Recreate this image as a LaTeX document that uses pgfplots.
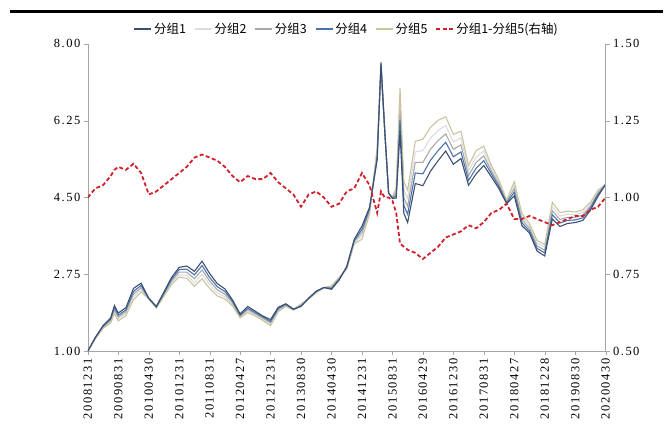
\documentclass[border=0pt]{standalone}
\usepackage{pgfplots}
\usepackage{pgfplotstable}
\pgfplotsset{compat=1.18}
\usepackage{fontspec}
\setmainfont{Liberation Serif}
\newfontfamily\tickf[LetterSpace=12]{Liberation Serif}
\newfontfamily\cjk{Noto Sans CJK SC}
\definecolor{gA}{HTML}{3C4F6E}
\definecolor{gB}{HTML}{DCDCDC}
\definecolor{gC}{HTML}{A8A8A8}
\definecolor{gD}{HTML}{4A72B0}
\definecolor{gE}{HTML}{C8C4A0}
\definecolor{rd}{HTML}{D0202A}
\pgfplotstableread{
m g1 g2 g3 g4 g5 d
0 1.00 1.00 1.00 1.00 1.00 1.00
2 1.32 1.29 1.30 1.31 1.28 1.03
4 1.58 1.53 1.55 1.57 1.52 1.04
6 1.76 1.67 1.70 1.73 1.64 1.07
7 2.04 1.91 1.95 2.00 1.86 1.09
8 1.87 1.74 1.78 1.82 1.69 1.10
10 1.99 1.86 1.90 1.94 1.81 1.09
12 2.43 2.24 2.30 2.36 2.17 1.11
14 2.55 2.40 2.45 2.50 2.35 1.08
16 2.21 2.20 2.20 2.20 2.19 1.01
18 2.02 1.99 2.00 2.01 1.98 1.02
20 2.35 2.28 2.30 2.32 2.25 1.04
22 2.68 2.56 2.60 2.64 2.52 1.06
24 2.91 2.74 2.80 2.86 2.69 1.08
26 2.94 2.73 2.80 2.87 2.66 1.10
28 2.82 2.56 2.65 2.74 2.48 1.13
30 3.05 2.75 2.85 2.95 2.65 1.14
32 2.77 2.52 2.60 2.68 2.43 1.13
34 2.54 2.33 2.40 2.47 2.26 1.12
36 2.42 2.24 2.30 2.36 2.19 1.10
38 2.17 2.06 2.10 2.14 2.03 1.07
40 1.85 1.78 1.80 1.82 1.76 1.05
42 2.02 1.92 1.95 1.98 1.88 1.07
44 1.91 1.82 1.85 1.88 1.80 1.06
46 1.80 1.72 1.75 1.78 1.70 1.06
48 1.72 1.62 1.65 1.68 1.58 1.08
50 2.00 1.93 1.95 1.97 1.90 1.05
52 2.08 2.03 2.05 2.07 2.02 1.03
54 1.96 1.95 1.95 1.95 1.94 1.01
56 2.02 2.07 2.05 2.03 2.08 0.97
58 2.21 2.20 2.20 2.20 2.19 1.01
60 2.37 2.34 2.35 2.36 2.33 1.02
62 2.45 2.45 2.45 2.45 2.45 1.00
64 2.41 2.47 2.45 2.43 2.49 0.97
66 2.62 2.66 2.65 2.64 2.68 0.98
68 2.93 2.89 2.90 2.91 2.87 1.02
70 3.55 3.47 3.50 3.53 3.45 1.03
72 3.85 3.63 3.70 3.77 3.55 1.08
74 4.28 4.16 4.20 4.24 4.12 1.04
76 5.36 5.57 5.50 5.43 5.64 0.95
77 7.58 7.46 7.50 7.54 7.43 1.02
78 6.00 6.00 6.00 6.00 6.00 1.00
79 4.60 4.60 4.60 4.60 4.60 1.00
80 4.48 4.51 4.50 4.49 4.52 0.99
81 4.49 4.66 4.60 4.54 4.72 0.95
82 6.01 6.74 6.50 6.26 6.99 0.85
83 4.14 4.68 4.50 4.32 4.86 0.84
84 3.93 4.48 4.30 4.12 4.67 0.83
86 4.82 5.54 5.30 5.06 5.78 0.82
88 4.77 5.57 5.30 5.04 5.83 0.80
90 5.10 5.85 5.60 5.35 6.10 0.82
92 5.34 6.03 5.80 5.57 6.26 0.84
94 5.56 6.14 5.95 5.76 6.34 0.87
96 5.26 5.77 5.60 5.43 5.94 0.88
98 5.39 5.86 5.70 5.54 6.01 0.89
100 4.78 5.11 5.00 4.89 5.23 0.91
102 5.04 5.43 5.30 5.17 5.57 0.90
104 5.23 5.56 5.45 5.34 5.67 0.92
106 4.97 5.16 5.10 5.04 5.23 0.95
108 4.70 4.85 4.80 4.75 4.90 0.96
110 4.36 4.42 4.40 4.38 4.44 0.98
112 4.54 4.78 4.70 4.62 4.86 0.93
114 3.86 4.07 4.00 3.93 4.14 0.93
116 3.69 3.86 3.80 3.74 3.91 0.94
118 3.28 3.46 3.40 3.34 3.52 0.93
120 3.17 3.37 3.30 3.24 3.43 0.92
122 4.01 4.29 4.20 4.11 4.39 0.91
124 3.84 4.08 4.00 3.92 4.16 0.92
126 3.91 4.12 4.05 3.98 4.19 0.93
128 3.93 4.11 4.05 3.99 4.17 0.94
130 3.98 4.16 4.10 4.04 4.22 0.94
132 4.21 4.34 4.30 4.26 4.39 0.96
134 4.53 4.63 4.60 4.57 4.67 0.97
136 4.80 4.80 4.80 4.80 4.80 1.00
}\data
\begin{document}
\begin{tikzpicture}
\pgfplotsset{
  base/.style={scale only axis, width=519pt, height=308pt,
    xmin=0, xmax=136,
    xtick={0,8,...,136},
    axis line style={gray!70}, tick style={gray!70},
    tick align=outside, major tick length=4pt,
    /pgf/number format/assume math mode=true,
    tick label style={font=\tickf\fontsize{12.5}{12.5}\selectfont},
  }}
\begin{axis}[base,
  axis x line*=bottom, axis y line*=left,
  ymin=1, ymax=8, ytick={1,2.75,4.5,6.25,8},
  yticklabel style={/pgf/number format/.cd,fixed,fixed zerofill,precision=2},
  xticklabels={20081231,20090831,20100430,20101231,20110831,20120427,20121231,20130830,20140430,20141231,20150831,20160429,20161230,20170831,20180427,20181228,20190830,20200430},
  xticklabel style={rotate=90, anchor=east},
  ]
\addplot[gB, line width=1.1pt] table[x=m,y=g2]{\data};
\addplot[gC, line width=1.1pt] table[x=m,y=g3]{\data};
\addplot[gE, line width=1.1pt] table[x=m,y=g5]{\data};
\addplot[gD, line width=1.1pt] table[x=m,y=g4]{\data};
\addplot[gA, line width=1.1pt] table[x=m,y=g1]{\data};
\end{axis}
\begin{axis}[base,
  axis x line=none, axis y line*=right,
  ymin=0.5, ymax=1.5, ytick={0.5,0.75,1,1.25,1.5},
  yticklabel style={/pgf/number format/.cd,fixed,fixed zerofill,precision=2},
  legend style={at={(0.5,1.015)}, anchor=south, draw=none, fill=none,
    legend columns=6, font=\cjk\fontsize{12.5}{12.5}\selectfont,
    /tikz/every even column/.append style={column sep=6pt}},
  legend cell align=left,
  ]
\addlegendimage{gA, line width=1.5pt}\addlegendentry{分组1}
\addlegendimage{gB, line width=1.5pt}\addlegendentry{分组2}
\addlegendimage{gC, line width=1.5pt}\addlegendentry{分组3}
\addlegendimage{gD, line width=1.5pt}\addlegendentry{分组4}
\addlegendimage{gE, line width=1.5pt}\addlegendentry{分组5}
\addplot[rd, line width=1.8pt, dash pattern=on 4pt off 2.5pt] table[x=m,y=d]{\data};
\addlegendentry{分组1-分组5(右轴)}
\end{axis}
\draw[line width=3pt] (-78pt,340pt) -- (576pt,340pt);
\path[use as bounding box] (-88pt,-76pt) rectangle (576pt,352pt);
\end{tikzpicture}
\end{document}
